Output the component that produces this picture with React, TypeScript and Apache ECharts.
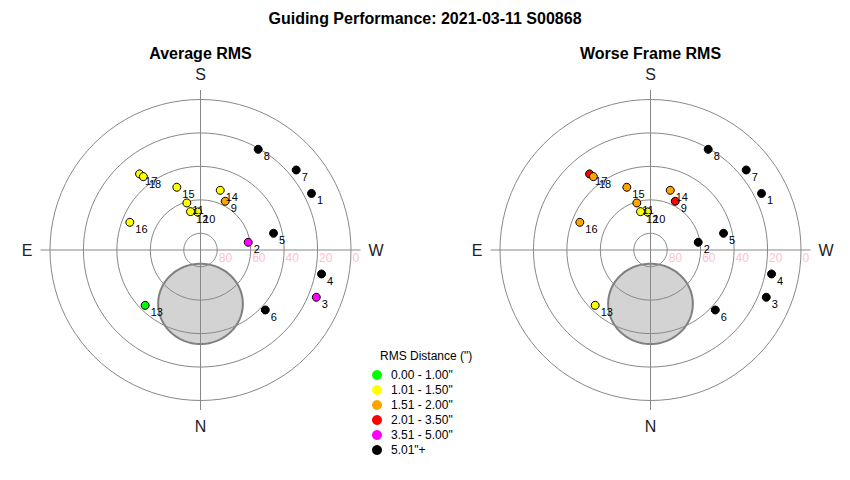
import { useEffect, useRef } from 'react';
import * as echarts from 'echarts';

const MAIN_TITLE = 'Guiding Performance: 2021-03-11 S00868';
const PANEL_TITLES = ['Average RMS', 'Worse Frame RMS'];
const LEGEND_TITLE = 'RMS Distance (")';
const DIRECTIONS = ['N', 'E', 'S', 'W'];
const ALT_TICKS = [0, 20, 40, 60, 80];

const FRAMES = ['1', '2', '3', '4', '5', '6', '7', '8', '9', '10', '11', '12', '13', '14', '15', '16', '17', '18'];
const AZIMUTH = [243, 260.8, 292.2, 281.2, 257.1, 312.8, 230.1, 209.8, 206.9, 175.5, 163.8, 165.4, 45, 198.3, 159.3, 111.4, 141.3, 142.1];
const ALTITUDE = [15.5, 61.1, 15.2, 16.2, 45.2, 37.2, 15.4, 20.6, 57.3, 67.2, 60.7, 66.3, 43.2, 52.4, 49.9, 44.6, 31.7, 34.4];
// RMS bin index per frame (0 = best ... 5 = worst)
const AVG_RMS_BIN = [5, 4, 4, 5, 5, 5, 5, 5, 2, 1, 1, 1, 0, 1, 1, 1, 1, 1];
const WORST_RMS_BIN = [5, 5, 5, 5, 5, 5, 5, 5, 3, 1, 2, 1, 1, 2, 2, 2, 3, 2];

const RMS_BIN_LABELS = ['0.00 - 1.00"', '1.01 - 1.50"', '1.51 - 2.00"', '2.01 - 3.50"', '3.51 - 5.00"', '5.01"+'];
const RMS_BIN_COLORS = ['#00ff00', '#ffff00', '#ffa500', '#ff0000', '#ff00ff', '#000000'];

const MOON_ALT = 57.8;
const MOON_AZ = 0;
const MOON_RADIUS = 24;

const FONT = '"Liberation Sans", Arial, sans-serif';
const LINE = '#888888';

const renderMoon = (_params: any, api: any) => {
  const d2r = Math.PI / 180;
  const alt = api.value(0) * d2r;
  const az = api.value(1) * d2r;
  const rho = api.value(2) * d2r;
  const pts: number[][] = [];
  for (let k = 0; k < 120; k++) {
    const th = (k * 3) * d2r;
    const s2 = Math.sin(alt) * Math.cos(rho) + Math.cos(alt) * Math.sin(rho) * Math.cos(th);
    const alt2 = Math.asin(s2);
    const daz = Math.atan2(Math.sin(th) * Math.sin(rho) * Math.cos(alt), Math.cos(rho) - Math.sin(alt) * s2);
    pts.push(api.coord([alt2 / d2r, (az + daz) / d2r]));
  }
  return {
    type: 'polygon',
    shape: { points: pts },
    style: { fill: '#d3d3d3', stroke: '#808080', lineWidth: 2 },
  };
};

export default function App() {
  const ref = useRef<HTMLDivElement>(null);

  useEffect(() => {
    if (!ref.current) return;
    const chart = echarts.init(ref.current, undefined, { renderer: 'svg' });
    const centers = [200.5, 650.5];

    const polar: any[] = [];
    const angleAxis: any[] = [];
    const radiusAxis: any[] = [];
    const series: any[] = [];

    centers.forEach((cx, p) => {
      const base = p * 3;
      // cross + direction labels
      polar.push({ center: [cx, 250], radius: 160 });
      angleAxis.push({
        polarIndex: base, type: 'category', data: DIRECTIONS, boundaryGap: false,
        startAngle: 270, clockwise: true, z: 3,
        axisLine: { show: false }, axisTick: { show: false },
        axisLabel: { fontSize: 16, color: '#222', margin: 8, fontFamily: FONT },
        splitLine: { show: true, lineStyle: { color: LINE, width: 1 } },
      });
      radiusAxis.push({ polarIndex: base, type: 'value', min: 0, max: 1, show: false });
      // data polar (altitude rings)
      polar.push({ center: [cx, 250], radius: 150.5 });
      angleAxis.push({
        polarIndex: base + 1, type: 'value', min: 0, max: 360, startAngle: 270, clockwise: true,
        z: 3, axisLine: { show: false }, axisTick: { show: false }, axisLabel: { show: false },
        splitLine: { show: false },
      });
      radiusAxis.push({
        polarIndex: base + 1, type: 'value', min: 0, max: 90, inverse: true, interval: 20, z: 3,
        axisLine: { show: false }, axisTick: { show: false }, axisLabel: { show: false },
        splitLine: { show: true, lineStyle: { color: LINE, width: 1 } },
      });
      // altitude labels polar
      polar.push({ center: [cx, 250], radius: 150.5 });
      angleAxis.push({
        polarIndex: base + 2, type: 'value', min: 0, max: 360, startAngle: 0, show: false,
      });
      radiusAxis.push({
        polarIndex: base + 2, type: 'value', min: 0, max: 90, inverse: true, interval: 20, z: 3,
        axisLine: { show: false }, axisTick: { show: false }, splitLine: { show: false },
        axisLabel: {
          show: true, color: '#ffc0cb', fontSize: 12, fontFamily: FONT, margin: -1.5,
          align: 'left', verticalAlign: 'top', padding: [0, 0, 0, 1.5],
          formatter: (v: number) => (ALT_TICKS.indexOf(v) >= 0 ? String(v) : ''),
        },
      });
    });

    const bins = [AVG_RMS_BIN, WORST_RMS_BIN];
    bins.forEach((bin, p) => {
      series.push({
        type: 'scatter', coordinateSystem: 'polar', polarIndex: p * 3 + 1, z: 5,
        symbol: 'circle', symbolSize: 8,
        itemStyle: { borderColor: '#000', borderWidth: 1, opacity: 1 },
        label: {
          show: true, formatter: '{b}', position: [10, 6], align: 'left', verticalAlign: 'top',
          fontSize: 11, color: '#000', fontFamily: FONT,
        },
        data: FRAMES.map((f, i) => ({ name: f, value: [ALTITUDE[i], AZIMUTH[i], bin[i]] })),
      });
    });
    centers.forEach((_cx, p) => {
      series.push({
        type: 'custom', coordinateSystem: 'polar', polarIndex: p * 3 + 1, z: 1,
        renderItem: renderMoon, silent: true,
        data: [[MOON_ALT, MOON_AZ, MOON_RADIUS]],
      });
    });

    const titleStyle = { fontSize: 16, fontWeight: 'bold', color: '#000', fontFamily: FONT };
    chart.setOption({
      animation: false,
      textStyle: { fontFamily: FONT },
      title: [
        { text: MAIN_TITLE, left: 'center', top: 10, padding: 0, textStyle: titleStyle },
        { text: PANEL_TITLES[0], left: centers[0], textAlign: 'center', top: 45, padding: 0, textStyle: titleStyle },
        { text: PANEL_TITLES[1], left: centers[1], textAlign: 'center', top: 45, padding: 0, textStyle: titleStyle },
        { text: LEGEND_TITLE, left: 380, top: 350, padding: 0, textStyle: { fontSize: 12, fontWeight: 'normal', color: '#000', fontFamily: FONT } },
      ],
      polar,
      angleAxis,
      radiusAxis,
      visualMap: {
        type: 'piecewise', seriesIndex: [0, 1], dimension: 2,
        pieces: RMS_BIN_LABELS.map((label, i) => ({ value: i, label, color: RMS_BIN_COLORS[i] })),
        orient: 'vertical', inverse: true, left: 372, top: 369, padding: 0,
        itemWidth: 10, itemHeight: 10, itemGap: 3, itemSymbol: 'circle', textGap: 9,
        selectedMode: false, showLabel: true,
        textStyle: { fontSize: 12, color: '#000', fontFamily: FONT },
      },
      series,
    });
    return () => chart.dispose();
  }, []);

  return <div ref={ref} style={{ position: 'absolute', left: 0, top: 0, width: 850, height: 480 }} />;
}
